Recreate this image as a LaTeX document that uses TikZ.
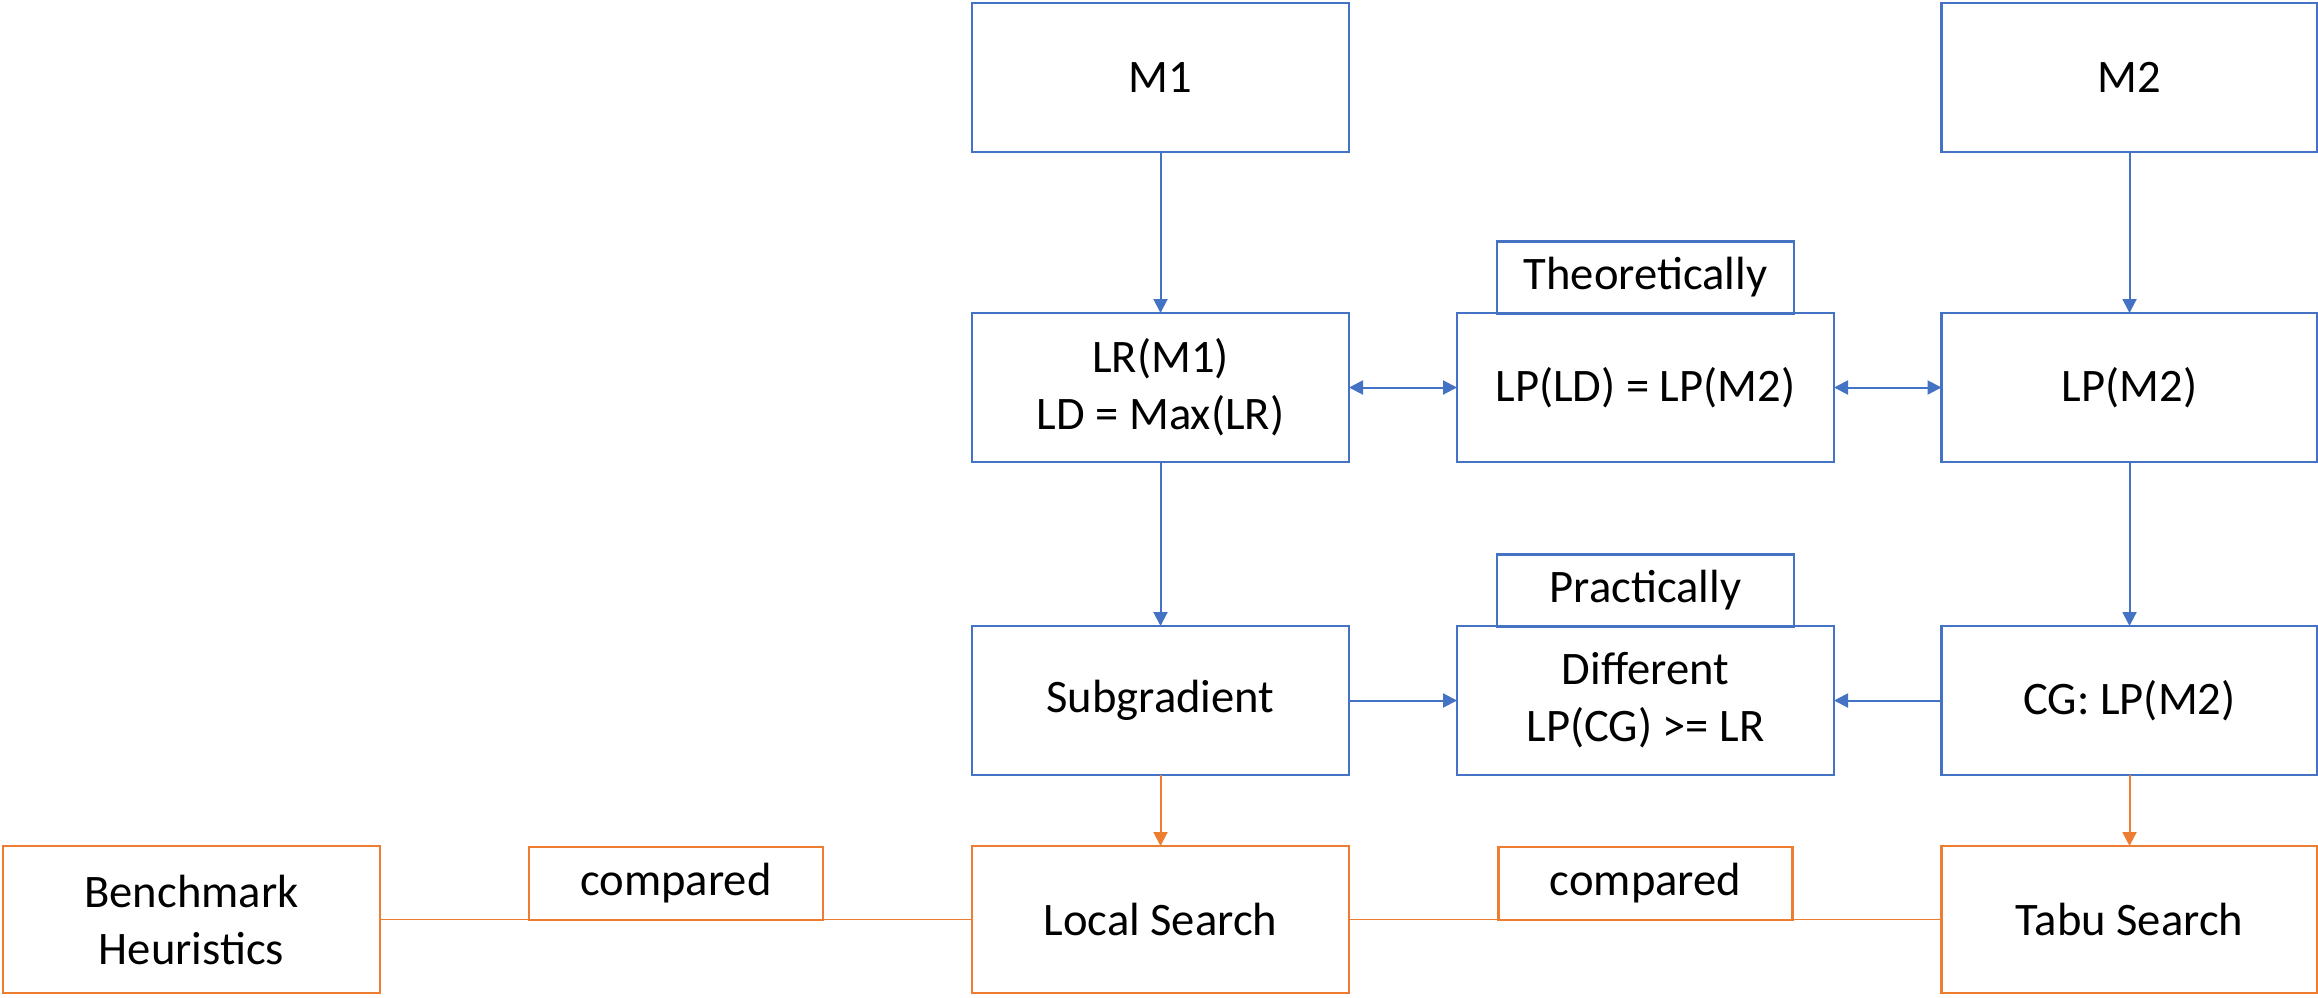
\documentclass[tikz,border=0pt]{standalone}
\usepackage{fontspec}
\setmainfont{Carlito}
\usetikzlibrary{arrows.meta}
\definecolor{oblue}{HTML}{4472C4}
\definecolor{oorange}{HTML}{ED7D31}
\begin{document}
\begin{tikzpicture}[x=0.5pt,y=-0.5pt,
  every node/.style={font=\fontsize{23.3}{28.5}\selectfont, align=center, inner sep=0pt, outer sep=0pt},
  bbox/.style={draw=oblue, line width=1.2pt, fill=white, rectangle, minimum width=188.5pt, minimum height=74.5pt},
  obox/.style={draw=oorange, line width=1.2pt, fill=white, rectangle, minimum width=188.5pt, minimum height=73.5pt},
  blab/.style={draw=oblue, line width=1.2pt, fill=white, rectangle, minimum width=148.5pt, minimum height=36pt},
  olab/.style={draw=oorange, line width=1.2pt, fill=white, rectangle, minimum width=147pt, minimum height=36.5pt},
  barrow/.style={draw=oblue, line width=1pt, -{Triangle[width=7pt,length=7pt]}},
  bdarrow/.style={draw=oblue, line width=1pt, {Triangle[width=7pt,length=7pt]}-{Triangle[width=7pt,length=7pt]}},
  oarrow/.style={draw=oorange, line width=1pt, -{Triangle[width=7pt,length=7pt]}},
  oline/.style={draw=oorange, line width=0.6pt}]
\useasboundingbox (0,0) rectangle (2318,997);
% row 1
\node[bbox] (m1) at (1160.5,77.5) {M1};
\node[bbox, minimum width=188pt] (m2) at (2129.5,77.5) {M2};
% row 2
\node[bbox] (lr) at (1160.5,387.5) {LR(M1)\\LD = Max(LR)};
\node[bbox] (lpld) at (1645.5,387.5) {LP(LD) = LP(M2)};
\node[bbox, minimum width=188pt] (lpm2) at (2129.5,387.5) {LP(M2)};
\node[blab] (theo) at (1645.5,277.5) {Theoretically};
% row 3
\node[bbox] (sub) at (1160.5,700.5) {Subgradient};
\node[bbox] (diff) at (1645.5,700.5) {Different\\LP(CG) >= LR};
\node[bbox, minimum width=188pt] (cg) at (2129.5,700.5) {CG: LP(M2)};
\node[blab] (prac) at (1645.5,590.5) {Practically};
% row 4
\node[obox] (bench) at (191.5,919.5) {Benchmark\\Heuristics};
\node[obox] (ls) at (1160.5,919.5) {Local Search};
\node[obox, minimum width=188pt] (tabu) at (2129.5,919.5) {Tabu Search};
% connectors
\draw[barrow] (m1) -- (lr);
\draw[barrow] (m2) -- (lpm2);
\draw[bdarrow] (lr) -- (lpld);
\draw[bdarrow] (lpld) -- (lpm2);
\draw[barrow] (lr) -- (sub);
\draw[barrow] (lpm2) -- (cg);
\draw[barrow] (sub) -- (diff);
\draw[barrow] (cg) -- (diff);
\draw[oarrow] (sub) -- (ls);
\draw[oarrow] (cg) -- (tabu);
\draw[oline] (bench) -- (ls);
\draw[oline] (ls) -- (tabu);
% compared labels
\node[olab] (cmp1) at (676,883.5) {compared};
\node[olab] (cmp2) at (1645.5,883.5) {compared};
\end{tikzpicture}
\end{document}
